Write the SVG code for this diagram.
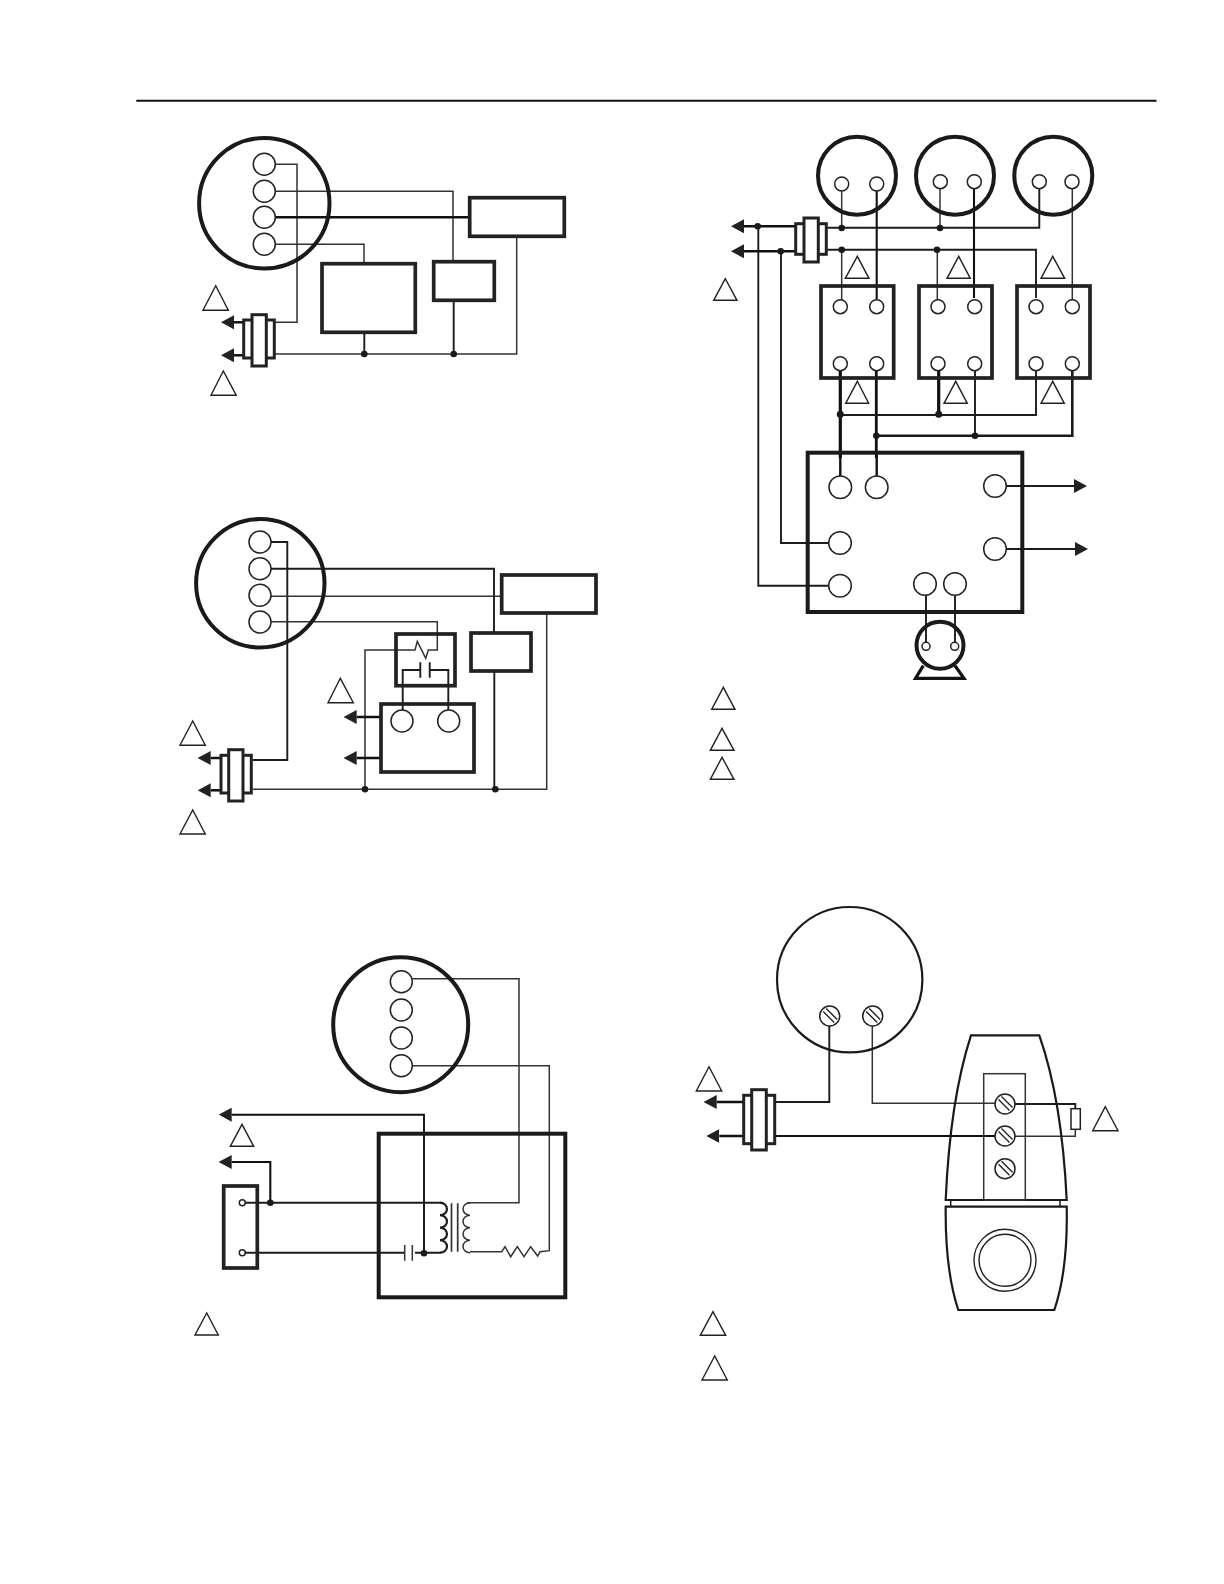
<svg xmlns="http://www.w3.org/2000/svg" xmlns:xlink="http://www.w3.org/1999/xlink" width="1224" height="1584" viewBox="0 0 1224 1584">
<style>
.w{fill:none;stroke:#333;stroke-width:1.5}
.m{fill:none;stroke:#1c1c1c;stroke-width:1.9}
.h{fill:none;stroke:#111;stroke-width:2.5}
.a{marker-end:url(#arr)}
.b{fill:none;stroke:#222;stroke-width:3.7}
.big{fill:none;stroke:#1a1a1a;stroke-width:4}
.t{fill:#fff;stroke:#222;stroke-width:1.4}
.p{fill:#fff;stroke:#222;stroke-width:1.5}
.c{fill:#fff;stroke:#222;stroke-width:3}
.d{fill:#1a1a1a;stroke:none}
.s{fill:none;stroke:#222;stroke-width:1.4}
</style>
<defs>
<marker id="arr" markerWidth="13" markerHeight="14" refX="0" refY="7" orient="auto" markerUnits="userSpaceOnUse"><path d="M0 0L13 7L0 14z" fill="#222"/></marker>
<g id="screw"><circle r="10" class="p"/><path d="M-6.5 -4.5L4.5 6.5M-3.5 -7.5L7.5 3.5" class="s"/></g>
</defs>
<rect width="1224" height="1584" fill="#fff"/>
<path id="rule" d="M136.3 100.7H1156.5" fill="none" stroke="#111" stroke-width="2"/>

<g id="connectors">
<path class="w" d="M275 164.3H297V322.3H275"/>
<path class="w" d="M275 191.3H453V261"/>
<path class="h" d="M275 217.3H468"/>
<path class="w" d="M275 244.3H364V263"/>
<path class="w" d="M275 354H516.7V237.7"/>
<path class="m" d="M364.3 332V354M453.7 300V354"/>
<path class="h a" d="M244 322.3H234"/>
<path class="h a" d="M244 355.3H234"/>
<path class="m" d="M271 542H287.3V760H252.7"/>
<path class="m" d="M271 568.7H494V632"/>
<path class="w" d="M271 596.3H500.7"/>
<path class="w" d="M271 621.7H437.3V650H428.3L425.7 658.3L417.3 641.3L415 650H365V789.3"/>
<path class="w" d="M252.7 789.3H546.7V613.7"/>
<path class="m" d="M494.3 671V789"/>
<path class="m" d="M420.3 670H402.7V710"/>
<path class="m" d="M429.7 670H448.3V710" stroke-width="1.4"/>
<path class="m" stroke-width="2" d="M420.3 662.3V677.7M429.7 662.3V677.7"/>
<path class="h a" d="M381 717H356.7"/>
<path class="h a" d="M381 758H356.7"/>
<path class="h a" d="M221 758H210.7"/>
<path class="h a" d="M221 790.3H210.7"/>
<path class="m" d="M827.3 227.7H1039.3V189"/>
<path class="m" d="M827.3 249.7H1036V298"/>
<path class="w" d="M841.7 191V228M940 189V228M841.7 250V300M937.3 250V300M1072.3 189V300"/>
<path class="h" style="stroke-width:2.1" d="M876.7 191V299M974 189V298"/>
<path class="h" style="stroke-width:3.2" d="M840.3 371V458M938.7 371V415"/>
<path class="h" style="stroke-width:2.8" d="M876.3 371V458"/>
<path class="m" d="M840.3 415H1036V370"/>
<path class="m" style="stroke-width:2.6" d="M876.3 435.7H1072.3V371"/>
<path class="m" d="M975 371V435.7"/>
<path class="h a" d="M796 226.3H744"/>
<path class="h a" d="M796 251.3H744"/>
<path class="m" d="M758.3 226.3V585.7H828.7"/>
<path class="m" d="M781 251.3V543H828.7"/>
<path class="h" style="stroke-width:2.4" d="M840.3 455V476M876.7 455V476"/>
<path class="m" d="M926 595V642M955 595V642"/>
<path class="m a" d="M1006 486H1074"/>
<path class="m a" d="M1006 549H1075"/>
<path class="w" d="M412.3 978.7H519V1202.7H467.3"/>
<path class="w" d="M412.3 1065.7H549.3V1250.7L540 1251.7L537.7 1256L530.7 1246.7L524 1256.7L517.3 1246.7L510.7 1256.7L505 1246.7L501.7 1251.7H470"/>
<path class="a" fill="none" stroke="#111" stroke-width="1.9" d="M424 1253.3V1114.7H231.7"/>
<path class="a" fill="none" stroke="#111" stroke-width="2.1" d="M270.3 1202.7V1162H231.7"/>
<path class="m" d="M245.5 1202.7H440.7"/>
<path class="m" d="M245.5 1252.7H404.5M415 1252.7H440.7"/>
<path class="w" d="M404.7 1245V1260.7M412.3 1245V1260.7"/>
<path class="m" style="stroke-width:2.2" d="M440 1202.7a7 6.25 0 0 1 0 12.5a7 6.25 0 0 1 0 12.5a7 6.25 0 0 1 0 12.5a7 6.25 0 0 1 0 12.5"/>
<path class="w" style="stroke-width:1.7" d="M451.5 1203.3V1251.7M457.7 1203.3V1251.7"/>
<path class="w" d="M470 1202.7a7 6.25 0 0 0 0 12.5a7 6.25 0 0 0 0 12.5a7 6.25 0 0 0 0 12.5a7 6.25 0 0 0 0 12.5"/>
<path class="m" d="M829.3 1026V1102H776"/>
<path class="w" d="M872.3 1026V1103.3H995"/>
<path class="h" style="stroke-width:2.1" d="M776 1136H995"/>
<path class="h a" d="M744 1102H716.7"/>
<path class="h a" d="M744 1136H719.3"/>
<path class="m" d="M1015 1104H1075.3V1108.7"/>
<path class="w" d="M1075.3 1129.3V1136.3H1015"/>
</g>

<g id="diagram-1">
<circle cx="264.3" cy="203.3" r="65.2" class="big"/>
<circle cx="264.3" cy="164.3" r="11" class="p"/><circle cx="264.3" cy="191.3" r="11" class="p"/><circle cx="264.3" cy="217.3" r="11" class="p"/><circle cx="264.3" cy="244.3" r="11" class="p"/>
<rect x="469.7" y="197.7" width="94.6" height="38.6" class="b"/>
<rect x="322" y="263.7" width="93.3" height="68.6" class="b"/>
<rect x="433.7" y="261.7" width="60.6" height="38.6" class="b"/>
<circle cx="364.3" cy="354" r="3.3" class="d"/><circle cx="453.7" cy="354" r="3.3" class="d"/>
<g id="plug-1"><rect x="243.7" y="320" width="30.6" height="38" class="c"/><rect x="252" y="314.7" width="14.3" height="51.3" class="c"/></g>
<path d="M215.7 285.7L203 310.3H228.3z" class="t"/><path d="M223.3 371L211 395.3H236.3z" class="t"/>
</g>

<g id="diagram-2">
<circle cx="260.3" cy="583.3" r="64.2" class="big"/>
<circle cx="260" cy="542" r="11" class="p"/><circle cx="260" cy="568.7" r="11" class="p"/><circle cx="260" cy="595.3" r="11" class="p"/><circle cx="260" cy="622" r="11" class="p"/>
<rect x="396" y="634" width="59" height="51.7" class="b"/>
<rect x="381" y="704" width="93" height="68" class="b"/>
<circle cx="402" cy="721" r="11" class="p"/><circle cx="448.7" cy="721" r="11" class="p"/>
<rect x="501.7" y="575" width="94.3" height="38" class="b"/>
<rect x="471" y="633" width="60" height="38" class="b"/>
<circle cx="365" cy="789.3" r="3.3" class="d"/><circle cx="495.3" cy="789.3" r="3.3" class="d"/>
<g id="plug-2"><rect x="221" y="755.3" width="30.3" height="37.7" class="c"/><rect x="228.7" y="749.7" width="14.3" height="51.3" class="c"/></g>
<path d="M340.3 678.3L328 702.7H353.3z" class="t"/><path d="M192.7 721L180 745.3H205.3z" class="t"/><path d="M192.7 810L180 834H205.3z" class="t"/>
</g>

<g id="diagram-3">
<circle cx="857" cy="175.7" r="39" class="big"/><circle cx="955" cy="175.7" r="39" class="big"/><circle cx="1053.3" cy="175.7" r="39" class="big"/>
<circle cx="841.7" cy="184" r="7" class="p"/><circle cx="876.7" cy="184" r="7" class="p"/><circle cx="940.3" cy="181.7" r="7" class="p"/><circle cx="974.3" cy="181.7" r="7" class="p"/><circle cx="1039.3" cy="181.7" r="7" class="p"/><circle cx="1072" cy="181.7" r="7" class="p"/>
<rect x="821" y="286" width="72.7" height="92" class="b"/><rect x="919" y="286" width="73" height="92" class="b"/><rect x="1017" y="286" width="73" height="92" class="b"/>
<circle cx="840.3" cy="306.7" r="7" class="p"/><circle cx="876.7" cy="306.7" r="7" class="p"/><circle cx="938" cy="306.7" r="7" class="p"/><circle cx="974.7" cy="306.7" r="7" class="p"/><circle cx="1036" cy="306.7" r="7" class="p"/><circle cx="1072.3" cy="306.7" r="7" class="p"/>
<circle cx="840.3" cy="363.7" r="7" class="p"/><circle cx="876.7" cy="363.7" r="7" class="p"/><circle cx="938" cy="363.7" r="7" class="p"/><circle cx="974.7" cy="363.7" r="7" class="p"/><circle cx="1036" cy="363.7" r="7" class="p"/><circle cx="1072.3" cy="363.7" r="7" class="p"/>
<circle cx="841.7" cy="228" r="3.3" class="d"/><circle cx="940" cy="228" r="3.3" class="d"/><circle cx="841.7" cy="249.7" r="3.3" class="d"/><circle cx="937" cy="249.7" r="3.3" class="d"/>
<circle cx="840.3" cy="414.3" r="3.5" class="d"/><circle cx="938.7" cy="414.3" r="3.5" class="d"/><circle cx="876.3" cy="435.7" r="3.3" class="d"/><circle cx="975" cy="435.7" r="3.3" class="d"/>
<circle cx="757.7" cy="226.3" r="3.3" class="d"/><circle cx="780.7" cy="251.3" r="3.3" class="d"/>
<g id="plug-3"><rect x="795.7" y="223.7" width="30.6" height="30.6" class="c"/><rect x="804" y="218" width="14.3" height="44" class="c"/></g>
<rect x="807.7" y="452.7" width="214.6" height="159.3" class="big"/>
<circle cx="840.3" cy="487.3" r="11.3" class="p"/><circle cx="876.7" cy="487.3" r="11.3" class="p"/><circle cx="840" cy="543" r="11.3" class="p"/><circle cx="840" cy="585.7" r="11.3" class="p"/><circle cx="995" cy="486" r="11.3" class="p"/><circle cx="995" cy="549" r="11.3" class="p"/><circle cx="925" cy="584" r="11.3" class="p"/><circle cx="955" cy="584" r="11.3" class="p"/>
<g id="motor"><path d="M923.3 665.7L915.5 678.3H964L955 665.7" fill="none" stroke="#111" stroke-width="3.2"/><circle cx="940" cy="645.3" r="23.5" class="big"/><circle cx="926" cy="646.3" r="4" class="p"/><circle cx="954.7" cy="646.3" r="4" class="p"/></g>
<path d="M857.3 256.3L845.3 278.3H869z" class="t"/><path d="M958.7 256.3L947 278.3H970.3z" class="t"/><path d="M1052.7 256.3L1041 278.3H1064.7z" class="t"/><path d="M725.3 278.7L713.7 300.3H737z" class="t"/>
<path d="M857.3 381.3L845.7 403.3H868.7z" class="t"/><path d="M955.7 381.3L944 403.3H967.3z" class="t"/><path d="M1052.7 381.3L1041 403.3H1064.3z" class="t"/>
<path d="M723.3 687.3L711.7 709.3H735z" class="t"/><path d="M722 728.3L710.3 750.3H734z" class="t"/><path d="M722 757.3L710.3 779.3H734z" class="t"/>
</g>

<g id="diagram-5">
<circle cx="400.7" cy="1024.7" r="67.5" class="big"/>
<circle cx="401.3" cy="981.7" r="11" class="p"/><circle cx="401.3" cy="1010" r="11" class="p"/><circle cx="401.3" cy="1038" r="11" class="p"/><circle cx="401.3" cy="1065.7" r="11" class="p"/>
<rect x="378.7" y="1133.7" width="186.6" height="163.6" fill="none" stroke="#1a1a1a" stroke-width="4"/>
<rect x="223.7" y="1186" width="33.6" height="82" class="b"/>
<circle cx="242.3" cy="1202.7" r="3" class="p"/><circle cx="242.3" cy="1252.7" r="3" class="p"/>
<circle cx="424" cy="1253.3" r="3.3" class="d"/><circle cx="270.3" cy="1202.7" r="3.3" class="d"/>
<path d="M242 1124.3L230.3 1146.3H253.7z" class="t"/><path d="M206.7 1313L195 1335H218.3z" class="t"/>
</g>

<g id="diagram-6">
<circle cx="849.7" cy="979.7" r="72.7" fill="none" stroke="#1a1a1a" stroke-width="2.2"/>
<use xlink:href="#screw" href="#screw" x="829.7" y="1016"/><use xlink:href="#screw" href="#screw" x="872.7" y="1016"/>
<g id="plug-6"><rect x="743.7" y="1095.3" width="31" height="48.4" class="c"/><rect x="751.7" y="1089.7" width="14.6" height="60.3" class="c"/></g>
<g id="device">
<path d="M971 1035.3H1039.3Q1062 1100 1066.7 1200H945.7Q950 1100 971 1035.3z" fill="none" stroke="#1a1a1a" stroke-width="2.2"/>
<path d="M950.7 1200V1206.7M1060 1200V1206.7" fill="none" stroke="#1a1a1a" stroke-width="1.5"/>
<path d="M945.7 1206.7H1066.7Q1068 1270 1054.3 1310H958.3Q945 1270 945.7 1206.7z" fill="none" stroke="#1a1a1a" stroke-width="2.2"/>
<rect x="983.7" y="1073.7" width="41.6" height="126.3" fill="none" stroke="#333" stroke-width="1.5"/>
<use xlink:href="#screw" href="#screw" x="1005" y="1104"/><use xlink:href="#screw" href="#screw" x="1005" y="1136"/><use xlink:href="#screw" href="#screw" x="1005" y="1168.7"/>
<circle cx="1005" cy="1260.3" r="31" class="s"/><circle cx="1005" cy="1260.3" r="26" class="s"/>
</g>
<rect x="1071" y="1108.7" width="9.3" height="20.6" fill="#fff" stroke="#222" stroke-width="1.5"/>
<path d="M709 1066.7L696.3 1091H721.7z" class="t"/><path d="M1105.3 1106.7L1092.7 1130.7H1118z" class="t"/><path d="M713 1311.7L700.3 1335.3H725.7z" class="t"/><path d="M714.7 1356L702 1380H727.3z" class="t"/>
</g>
</svg>
